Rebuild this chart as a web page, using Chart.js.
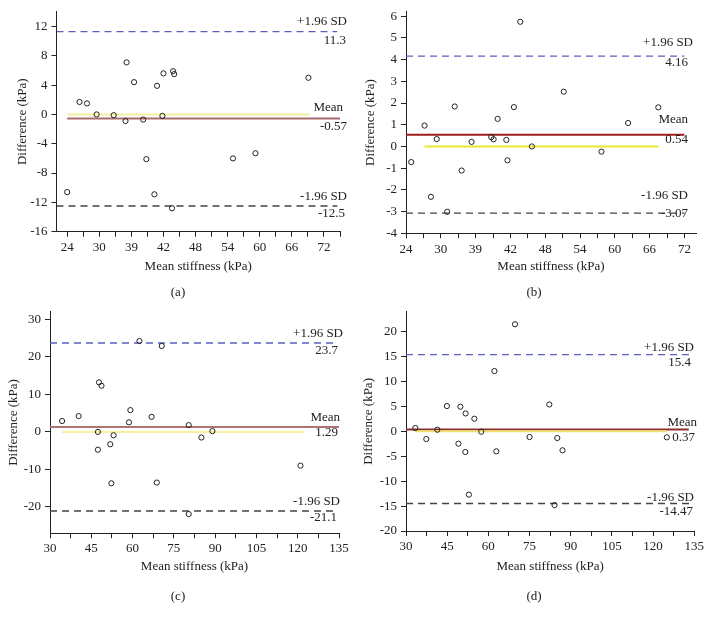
<!DOCTYPE html>
<html>
<head>
<meta charset="utf-8">
<script src="https://cdn.jsdelivr.net/npm/chart.js@4.4.1/dist/chart.umd.min.js"></script>
<style>
  body { margin: 0; background: #fff; width: 712px; height: 617px; position: relative; overflow: hidden; font-family: "Liberation Serif", serif; }
  .panel { position: absolute; width: 356px; height: 300px; }
  .cap { position: absolute; font-size: 13px; color: #222; transform: translate(-50%, -50%); }
</style>
</head>
<body>
<div class="panel" style="left:0;top:0"><canvas id="chartA" width="356" height="300"></canvas></div>
<div class="panel" style="left:356px;top:0"><canvas id="chartB" width="356" height="300"></canvas></div>
<div class="panel" style="left:0;top:300px"><canvas id="chartC" width="356" height="300"></canvas></div>
<div class="panel" style="left:356px;top:300px"><canvas id="chartD" width="356" height="300"></canvas></div>
<div class="cap" style="left:178px;top:292px">(a)</div>
<div class="cap" style="left:534px;top:292px">(b)</div>
<div class="cap" style="left:178px;top:596px">(c)</div>
<div class="cap" style="left:534px;top:596px">(d)</div>

<script>
// Bland-Altman: mean stiffness vs difference, 4 panels

// tick labels (the original prints "39" where 36 should be)
const xTicksAB = [24, 30, 36, 42, 48, 54, 60, 66, 72];
const xLabelsAB = ['24', '30', '39', '42', '48', '54', '60', '66', '72'];
const xTicksCD = [30, 45, 60, 75, 90, 105, 120, 135];
const xLabelsCD = ['30', '45', '60', '75', '90', '105', '120', '135'];

// panel (a)
const aX = [24.0, 26.3, 27.7, 29.5, 32.7, 34.9, 35.1, 36.5, 38.2, 38.8, 40.3, 40.8, 41.8, 42.0, 43.6, 43.8, 44.0, 55.0, 59.2, 69.1];
const aY = [-10.6, 1.7, 1.5, 0.0, -0.1, -0.9, 7.1, 4.4, -0.7, -6.1, -10.9, 3.9, -0.2, 5.6, -12.8, 5.9, 5.5, -6.0, -5.3, 5.0];
const aLimits = [11.3, -0.57, -12.5];      // +1.96 SD, mean, -1.96 SD
const aYTicks = [-16, -12, -8, -4, 0, 4, 8, 12];

// panel (b)
const bX = [24.9, 27.2, 28.3, 29.3, 31.1, 32.4, 33.6, 35.3, 38.7, 39.1, 39.8, 41.3, 41.5, 42.6, 43.7, 45.7, 51.2, 57.7, 62.3, 67.5];
const bY = [-0.72, 0.96, -2.32, 0.34, -3.01, 1.84, -1.11, 0.21, 0.43, 0.33, 1.27, 0.30, -0.64, 1.81, 5.74, 0.0, 2.52, -0.24, 1.08, 1.80];
const bLimits = [4.16, 0.54, -3.07];
const bYTicks = [-4, -3, -2, -1, 0, 1, 2, 3, 4, 5, 6];

// panel (c)
const cX = [34.4, 40.4, 47.4, 47.4, 47.8, 48.7, 51.9, 52.3, 53.1, 58.7, 59.2, 62.5, 66.9, 68.8, 70.6, 80.4, 80.4, 85.0, 89.0, 121.0];
const cY = [2.9, 4.2, 0.0, -4.75, 13.2, 12.3, -3.3, -13.7, -0.9, 2.55, 5.8, 24.2, 4.0, -13.5, 22.9, 1.8, -21.9, -1.5, 0.2, -9.0];
const cLimits = [23.7, 1.29, -21.1];
const cYTicks = [-20, -10, 0, 10, 20, 30];

// panel (d)
const dX = [33.4, 37.4, 41.4, 44.9, 49.1, 49.8, 51.6, 51.7, 52.9, 54.9, 57.4, 62.2, 62.9, 69.7, 75.0, 82.2, 84.1, 85.1, 87.0, 125.0];
const dY = [0.67, -1.54, 0.33, 5.08, -2.47, 4.95, -4.15, 3.6, -12.7, 2.54, -0.07, 12.1, -4.0, 21.5, -1.14, 5.4, -14.8, -1.34, -3.8, -1.2];
const dLimits = [15.4, 0.37, -14.47];
const dYTicks = [-20, -15, -10, -5, 0, 5, 10, 15, 20];

const serif = '"Liberation Serif", "Times New Roman", serif';
const ink = '#222';

// text next to the reference lines
const refLabels = {
  id: 'refLabels',
  afterDatasetsDraw(chart, args, opts) {
    const ctx = chart.ctx;
    const ys = chart.scales.y;
    ctx.save();
    ctx.font = '13px ' + serif;
    ctx.fillStyle = ink;
    ctx.textAlign = 'right';
    ctx.textBaseline = 'middle';
    opts.items.forEach(it => {
      ctx.fillText(it.text, it.right, ys.getPixelForValue(it.value) + it.dy);
    });
    ctx.restore();
  }
};

function hline(y, x0, x1, color, width, dash) {
  return {
    data: [{ x: x0, y: y }, { x: x1, y: y }],
    showLine: true,
    borderColor: color,
    borderWidth: width,
    borderDash: dash || [],
    pointRadius: 0,
    order: 2
  };
}

function makePanel(id, p) {
  const minorStep = p.minor;
  const xAll = [];
  for (let v = p.xTicks[0]; v <= p.xMax + 0.01; v += minorStep) xAll.push(v);

  new Chart(document.getElementById(id), {
    type: 'scatter',
    data: {
      datasets: [
        {
          data: p.xs.map((x, i) => ({ x: x, y: p.ys[i] })),
          pointRadius: 2.6,
          pointBorderWidth: 1,
          pointBorderColor: ink,
          pointBackgroundColor: 'rgba(0,0,0,0)',
          order: 0
        },
        hline(0, p.zeroSpan[0], p.zeroSpan[1], p.zeroColor, 2),
        hline(p.limits[0], p.upSpan[0], p.upSpan[1], '#5b5fc4', 1.4, [7, 5]),
        hline(p.limits[2], p.upSpan[0], p.upSpan[1], '#444', 1.4, [7, 5]),
        hline(p.limits[1], p.meanSpan[0], p.meanSpan[1], p.meanColor, 2)
      ]
    },
    options: {
      responsive: false,
      animation: false,
      layout: { padding: { left: 0, top: p.area.top, right: 356 - p.area.right, bottom: 0 } },
      plugins: {
        legend: { display: false },
        tooltip: { enabled: false },
        refLabels: {
          items: [
            { text: '+1.96 SD', value: p.limits[0], dy: p.dy[0], right: p.rx[0] },
            { text: String(p.limits[0]), value: p.limits[0], dy: p.dy[1], right: p.rx[1] },
            { text: 'Mean', value: p.limits[1], dy: p.dy[2], right: p.rx[2] },
            { text: String(p.limits[1]), value: p.limits[1], dy: p.dy[3], right: p.rx[3] },
            { text: '-1.96 SD', value: p.limits[2], dy: p.dy[4], right: p.rx[4] },
            { text: String(p.limits[2]), value: p.limits[2], dy: p.dy[5], right: p.rx[5] }
          ]
        }
      },
      scales: {
        x: {
          type: 'linear',
          min: p.xMin,
          max: p.xMax,
          afterFit: s => { s.height = 300 - p.area.bottom; },
          afterBuildTicks: s => { s.ticks = xAll.map(v => ({ value: v })); },
          ticks: {
            autoSkip: false,
            maxRotation: 0,
            padding: 3,
            color: ink,
            font: { family: serif, size: 13 },
            callback: v => {
              const i = p.xTicks.findIndex(t => Math.abs(t - v) < 1e-6);
              return i >= 0 ? p.xLabels[i] : '';
            }
          },
          grid: { drawOnChartArea: false, tickLength: 5, color: ink },
          border: { color: ink, width: 1 },
          title: {
            display: true,
            text: 'Mean stiffness (kPa)',
            color: ink,
            font: { family: serif, size: 13 },
            padding: { top: 0, bottom: 26 }
          }
        },
        y: {
          min: p.yMin,
          max: p.yMax,
          afterFit: s => { s.width = p.area.left; },
          afterBuildTicks: s => { s.ticks = p.yTicks.map(v => ({ value: v })); },
          ticks: {
            padding: 4,
            color: ink,
            font: { family: serif, size: 13 }
          },
          grid: { drawOnChartArea: false, tickLength: 5, color: ink },
          border: { color: ink, width: 1 },
          title: {
            display: true,
            text: 'Difference (kPa)',
            color: ink,
            font: { family: serif, size: 13 },
            padding: { top: p.yTitlePad, bottom: 0 }
          }
        }
      }
    },
    plugins: [refLabels]
  });
}

makePanel('chartA', {
  xs: aX, ys: aY, limits: aLimits, yTicks: aYTicks,
  xTicks: xTicksAB, xLabels: xLabelsAB, minor: 3,
  xMin: 22, xMax: 75, yMin: -16, yMax: 14,
  area: { left: 56.5, right: 340, top: 9.5, bottom: 231.7 },
  zeroSpan: [24, 69.3], upSpan: [22, 74.5], meanSpan: [24, 75],
  zeroColor: '#f4f0a0', meanColor: '#a86c6c',
  dy: [-10.5, 8.8, -10.7, 7.6, -9, 7.5], rx: [347, 346, 343, 347, 347, 345],
  yTitlePad: 15
});

makePanel('chartB', {
  xs: bX, ys: bY, limits: bLimits, yTicks: bYTicks,
  xTicks: xTicksAB, xLabels: xLabelsAB, minor: 3,
  xMin: 24, xMax: 74, yMin: -4, yMax: 6.2,
  area: { left: 50, right: 340, top: 8.9, bottom: 233.3 },
  zeroSpan: [27.2, 67.5], upSpan: [24, 72], meanSpan: [24, 72],
  zeroColor: '#e8e830', meanColor: '#a01c1c',
  dy: [-13.8, 6.2, -15, 4.6, -18, 0], rx: [337, 332, 332, 332, 332, 332],
  yTitlePad: 7
});

makePanel('chartC', {
  xs: cX, ys: cY, limits: cLimits, yTicks: cYTicks,
  xTicks: xTicksCD, xLabels: xLabelsCD, minor: 7.5,
  xMin: 30, xMax: 135, yMin: -27, yMax: 32,
  area: { left: 50, right: 339, top: 9.7, bottom: 233.2 },
  zeroSpan: [34.4, 122.5], upSpan: [30, 134.5], meanSpan: [30, 135],
  zeroColor: '#f4f0a0', meanColor: '#b07272',
  dy: [-9, 8, -9.4, 5.6, -9, 6.4], rx: [343, 338, 340, 338, 340, 337],
  yTitlePad: 6
});

makePanel('chartD', {
  xs: dX, ys: dY, limits: dLimits, yTicks: dYTicks,
  xTicks: xTicksCD, xLabels: xLabelsCD, minor: 7.5,
  xMin: 30, xMax: 135, yMin: -20, yMax: 24,
  area: { left: 50, right: 338.3, top: 11.8, bottom: 231 },
  zeroSpan: [33.4, 125], upSpan: [30, 135], meanSpan: [30, 133],
  zeroColor: '#f0e070', meanColor: '#8e2e2e',
  dy: [-6.6, 8.4, -7, 8.5, -6, 8], rx: [338, 335, 341, 339, 338, 337],
  yTitlePad: 5
});
</script>
</body>
</html>
